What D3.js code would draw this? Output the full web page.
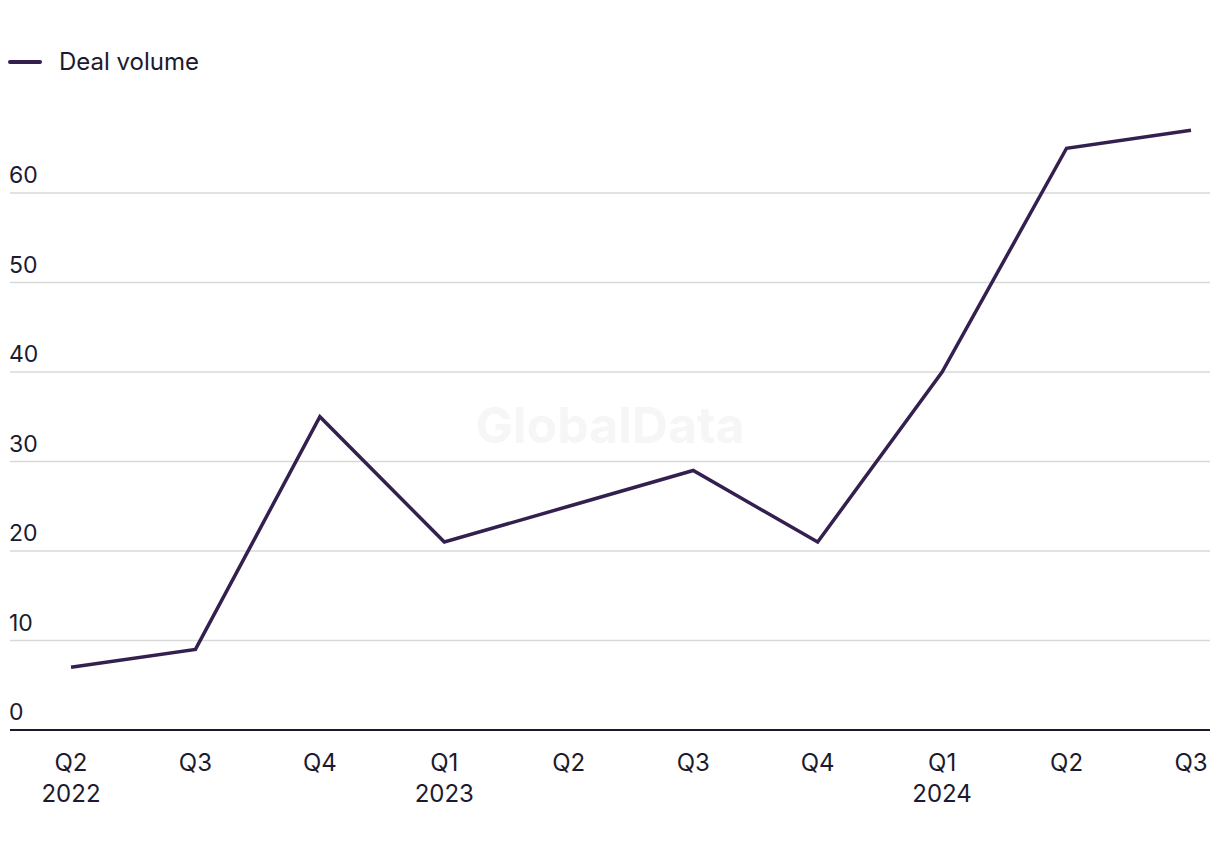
<!DOCTYPE html>
<html><head><meta charset="utf-8">
<script src="https://cdn.jsdelivr.net/npm/d3@7"></script>
<style>body{margin:0;background:#fff}svg{display:block}text{font-family:Inter,"Noto Sans",sans-serif}</style>
</head><body>
<svg id="c" width="1220" height="850"></svg>
<script>
const quarters = ["Q2","Q3","Q4","Q1","Q2","Q3","Q4","Q1","Q2","Q3"];
const years = ["2022","","","2023","","","","2024","",""];
const dealVolume = [7,9,35,21,25,29,21,40,65,67];
const yTicks = [0,10,20,30,40,50,60];
const seriesName = "Deal volume";

const svg = d3.select("#c");
const idx = d3.range(dealVolume.length);
const x = d3.scalePoint().domain(idx).range([71,1191]);
const y = d3.scaleLinear().domain([0,60]).range([730,193]);
const textColor = "#1c1a2e";
const lineColor = "#33204f";

// watermark
svg.append("text").attr("x",610).attr("y",443).attr("text-anchor","middle")
  .attr("font-size",50).attr("font-weight",700).attr("fill","#f6f6f6").text("GlobalData");

// grid
const g = svg.append("g");
g.selectAll("line.grid").data(yTicks.filter(d=>d>0)).join("line")
  .attr("x1",10).attr("x2",1210).attr("y1",d=>y(d)).attr("y2",d=>y(d))
  .attr("stroke","#d9d9d9").attr("stroke-width",1.5);
g.selectAll("text.yl").data(yTicks).join("text")
  .attr("x",9).attr("y",d=>y(d)-10).attr("font-size",23).attr("fill",textColor).text(d=>d);
svg.append("line").attr("x1",10).attr("x2",1210).attr("y1",y(0)).attr("y2",y(0))
  .attr("stroke",textColor).attr("stroke-width",2);

// x labels
const xl = svg.append("g");
xl.selectAll("text.q").data(idx).join("text").attr("x",i=>x(i)).attr("y",771)
  .attr("text-anchor","middle").attr("font-size",24).attr("fill",textColor).text(i=>quarters[i]);
xl.selectAll("text.yr").data(idx.filter(i=>years[i])).join("text").attr("x",i=>x(i)).attr("y",802)
  .attr("text-anchor","middle").attr("font-size",24).attr("fill",textColor).text(i=>years[i]);

// line
svg.append("path").datum(idx).attr("fill","none").attr("stroke",lineColor).attr("stroke-width",3.5)
  .attr("stroke-linejoin","miter")
  .attr("d",d3.line().x(i=>x(i)).y(i=>y(dealVolume[i])));

// legend
svg.append("line").attr("x1",10).attr("x2",40).attr("y1",62).attr("y2",62)
  .attr("stroke",lineColor).attr("stroke-width",4).attr("stroke-linecap","round");
svg.append("text").attr("x",59).attr("y",70).attr("font-size",24).attr("fill",textColor).text(seriesName);
</script>
</body></html>
